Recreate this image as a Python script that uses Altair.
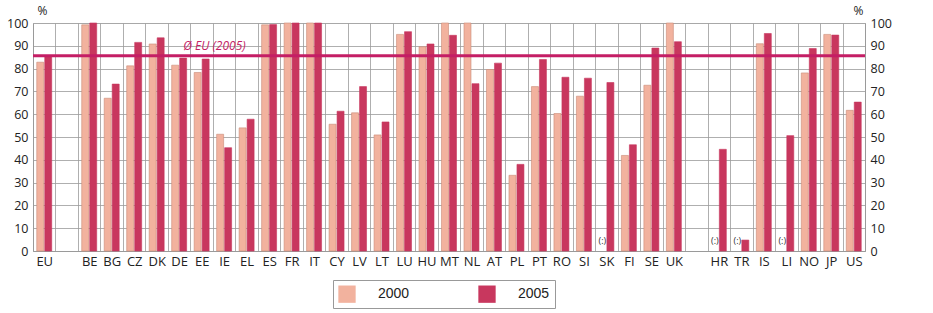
import altair as alt
import pandas as pd
import numpy as np

categories = ["EU", " ", "BE", "BG", "CZ", "DK", "DE", "EE", "IE", "EL", "ES", "FR", "IT",
              "CY", "LV", "LT", "LU", "HU", "MT", "NL", "AT", "PL", "PT", "RO", "SI", "SK",
              "FI", "SE", "UK", "  ", "HR", "TR", "IS", "LI", "NO", "JP", "US"]
v2000 = [82.8, None, 99.2, 67.0, 81.2, 90.8, 81.5, 78.3, 51.2, 54.0, 99.2, 100, 100,
         55.6, 60.6, 50.9, 95.0, 89.6, 100, 100, 79.6, 33.2, 72.1, 60.3, 67.9, None,
         41.9, 72.7, 100, None, None, None, 90.9, None, 78.1, 95.0, 61.7]
v2005 = [85.6, None, 100, 73.2, 91.5, 93.5, 84.6, 84.2, 45.3, 57.8, 99.3, 100, 100,
         61.3, 72.1, 56.6, 96.2, 90.8, 94.6, 73.4, 82.4, 38.0, 84.0, 76.2, 75.8, 73.9,
         46.6, 89.0, 91.8, None, 44.6, 4.8, 95.4, 50.6, 88.8, 94.7, 65.3]
missing_2000 = ["SK", "HR", "TR", "LI"]
eu_avg_2005 = 85.6
years = ["2000", "2005"]
y_ticks = list(range(0, 101, 10))

rows = []
for c, a, b in zip(categories, v2000, v2005):
    rows.append({"cat": c, "year": "2000", "value": a})
    rows.append({"cat": c, "year": "2005", "value": b})
df = pd.DataFrame(rows)
df["value"] = df["value"].astype(float)

miss_df = pd.DataFrame({"cat": missing_2000, "year": ["2000"] * len(missing_2000),
                        "pos": [4.6] * len(missing_2000), "label": ["(:)"] * len(missing_2000)})
avg_df = pd.DataFrame({"avg": [eu_avg_2005], "cat": ["DE"], "label": ["Ø EU (2005)"]})

FONT = "Open Sans"
GRID = "#9a9a9a"
C2000 = "#F2B29E"
C2005 = "#C8375E"
LINE = "#C41E65"

xscale = alt.Scale(domain=categories, paddingInner=0, paddingOuter=0)
yscale = alt.Scale(domain=[0, 100], nice=False)
offscale = alt.Scale(domain=years, paddingInner=0.125, paddingOuter=0.47)

x_axis = alt.Axis(title=None, tickBand="extent", grid=True, gridColor=GRID, gridWidth=0.8,
                  ticks=False, domainColor=GRID, labelFont=FONT, labelFontSize=13,
                  labelColor="#222", labelPadding=4, labelAngle=0)

X = alt.X("cat:N", scale=xscale, sort=categories, axis=x_axis)

bars = alt.Chart(df).mark_bar(strokeWidth=0.6).encode(
    x=X,
    xOffset=alt.XOffset("year:N", scale=offscale),
    y=alt.Y("value:Q", scale=yscale,
            axis=alt.Axis(values=y_ticks, grid=True, gridColor=GRID, gridWidth=0.8,
                          ticks=False, domainColor=GRID, labelFont=FONT, labelFontSize=12.5,
                          labelColor="#222", labelPadding=5,
                          title="%", titleAngle=0, titleFont=FONT, titleFontSize=12,
                          titleFontWeight="normal", titleColor="#222",
                          titleX=9, titleY=-6, titleAlign="center")),
    color=alt.Color("year:N", scale=alt.Scale(domain=years, range=[C2000, C2005]),
                    legend=alt.Legend(title=None, orient="none", direction="horizontal",
                                      legendX=300, legendY=257, strokeColor="#999",
                                      padding=5, symbolType="square", symbolSize=300,
                                      symbolStrokeWidth=0, labelFont="Liberation Sans",
                                      labelFontSize=14, labelColor="#222", labelOffset=22,
                                      columnPadding=68)),
    stroke=alt.Stroke("year:N", scale=alt.Scale(domain=years, range=["#C98B77", C2005]),
                      legend=None),
)

rule = alt.Chart(avg_df).mark_rule(color=LINE, strokeWidth=3).encode(
    y=alt.Y("avg:Q", scale=yscale,
            axis=alt.Axis(orient="right", values=y_ticks, grid=False, ticks=False,
                          domainColor=GRID, labelFont=FONT, labelFontSize=12.5,
                          labelColor="#222", labelPadding=5,
                          title="%", titleAngle=0, titleFont=FONT, titleFontSize=12,
                          titleFontWeight="normal", titleColor="#222",
                          titleX=-7, titleY=-6, titleAlign="center"))
)

avg_text = alt.Chart(avg_df).mark_text(align="left", dx=4, dy=-10, fontStyle="italic",
                                       font=FONT, fontSize=12, color=LINE).encode(
    x=X,
    y=alt.Y("avg:Q", scale=yscale, axis=None),
    text="label:N",
)

miss_text = alt.Chart(miss_df).mark_text(font=FONT, fontSize=9, color="#333").encode(
    x=X,
    xOffset=alt.XOffset("year:N", scale=offscale),
    y=alt.Y("pos:Q", scale=yscale, axis=None),
    text="label:N",
)

chart = alt.layer(bars, rule, avg_text, miss_text).resolve_axis(y="independent").properties(
    width=832, height=228,
    autosize=alt.AutoSizeParams(type="none"),
    padding={"left": 33, "top": 23, "right": 68, "bottom": 62},
).configure_view(stroke=None).configure(background="white")

chart.save("out.html", embed_options={"renderer": "svg", "actions": False})
